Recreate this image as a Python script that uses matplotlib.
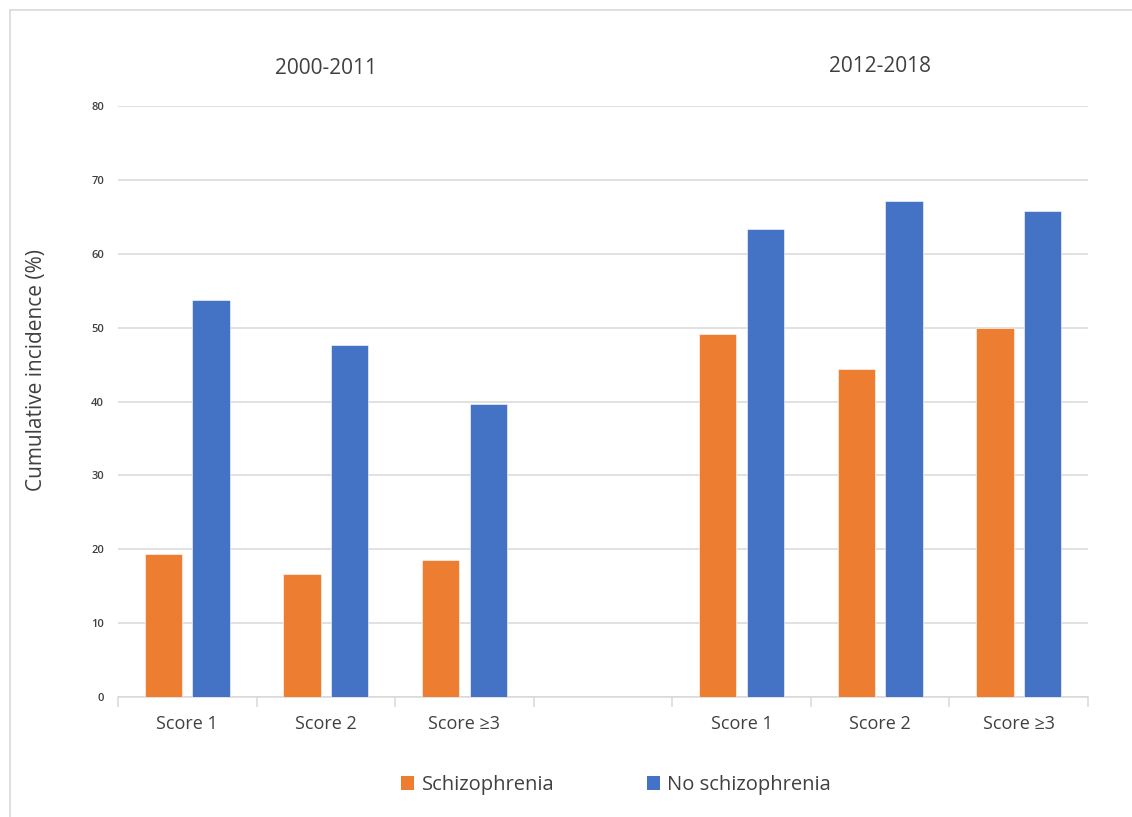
import numpy as np
import matplotlib
matplotlib.use("Agg")
import matplotlib.pyplot as plt
from matplotlib.patches import Patch
from matplotlib.lines import Line2D
from matplotlib.transforms import blended_transform_factory

plt.rcParams['font.family'] = ['Open Sans', 'DejaVu Sans']

# data
periods = ["2000-2011", "2012-2018"]
scores = ["Score 1", "Score 2", "Score \u22653"]
series_names = ["Schizophrenia", "No schizophrenia"]
schizo_2000 = [19.4, 16.6, 18.6]
no_schizo_2000 = [53.8, 47.6, 39.6]
schizo_2012 = [49.2, 44.4, 50.0]
no_schizo_2012 = [63.4, 67.2, 65.8]

orange = "#ED7D31"
blue = "#4472C4"
grid_col = "#D9D9D9"
text_col = "#404040"

fig = plt.figure(figsize=(11.32, 8.17), dpi=100)
ax = fig.add_axes([118 / 1132, 1 - 697 / 817, (1088 - 118) / 1132, (697 - 106) / 817])

# left group at 0..2, empty slot at 3, right group at 4..6
x_left = np.arange(len(scores))
x_right = x_left + len(scores) + 1
w = 0.27
off = 0.172

ax.bar(x_left - off, schizo_2000, w, color=orange, edgecolor="white", linewidth=0.4, zorder=3)
ax.bar(x_left + off, no_schizo_2000, w, color=blue, edgecolor="white", linewidth=0.4, zorder=3)
ax.bar(x_right - off, schizo_2012, w, color=orange, edgecolor="white", linewidth=0.4, zorder=3)
ax.bar(x_right + off, no_schizo_2012, w, color=blue, edgecolor="white", linewidth=0.4, zorder=3)

ax.set_xlim(-0.5, 6.5)
ax.set_ylim(0, 80)
ax.set_yticks(np.arange(0, 81, 10))
ax.yaxis.grid(True, color=grid_col, linewidth=1.1)
ax.set_axisbelow(True)

ax.set_xticks(np.concatenate([x_left, x_right]))
ax.set_xticklabels(scores + scores, fontsize=13, color=text_col)
ax.set_xticks(np.arange(-0.5, 7, 1), minor=True)
ax.tick_params(axis="x", which="major", length=0, pad=13)
ax.tick_params(axis="x", which="minor", length=7, color=grid_col, width=1.1)
ax.tick_params(axis="y", length=0, pad=10, labelsize=8, labelcolor=text_col)
for lab in ax.get_yticklabels():
    lab.set_fontweight("semibold")

for side in ["top", "right", "left"]:
    ax.spines[side].set_visible(False)
ax.spines["bottom"].set_color(grid_col)
ax.spines["bottom"].set_linewidth(1.1)

ax.set_ylabel("Cumulative incidence (%)", fontsize=15, color=text_col)
ax.yaxis.set_label_coords((47 - 118) / 970, (697 - 370) / 591)

# period titles over each group
trans = blended_transform_factory(ax.transData, fig.transFigure)
ax.text(x_left.mean(), 1 - 68 / 817, periods[0], transform=trans, ha="center", va="center",
        fontsize=15, color=text_col)
ax.text(x_right.mean(), 1 - 66 / 817, periods[1], transform=trans, ha="center", va="center",
        fontsize=15, color=text_col)

handles = [Patch(facecolor=orange, label=series_names[0]),
           Patch(facecolor=blue, label=series_names[1])]
fig.legend(handles=handles, loc="center", bbox_to_anchor=(616 / 1132, 1 - 785 / 817), ncol=2,
           frameon=False, fontsize=14.5, handlelength=0.65, handleheight=0.65,
           handletextpad=0.35, columnspacing=4.6, labelcolor=text_col)

# chart frame (left and top edges visible)
fig.add_artist(Line2D([10 / 1132, 10 / 1132], [0, 1 - 10 / 817], color=grid_col, linewidth=1.2))
fig.add_artist(Line2D([10 / 1132, 1], [1 - 10 / 817, 1 - 10 / 817], color=grid_col, linewidth=1.2))

fig.savefig("out.png", dpi=100)
